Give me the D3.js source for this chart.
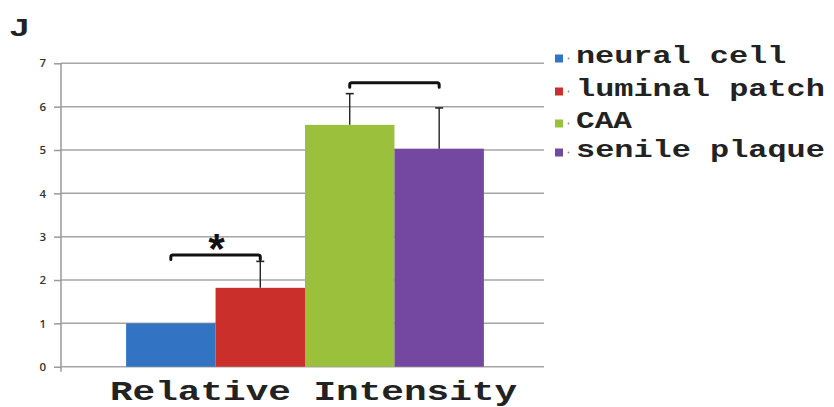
<!DOCTYPE html>
<html>
<head>
<meta charset="utf-8">
<script src="https://cdn.jsdelivr.net/npm/d3@7"></script>
<style>
  html, body { margin: 0; padding: 0; background: #fff; }
  svg { display: block; }
</style>
</head>
<body>
<svg id="chart" width="834" height="407"></svg>
<script>
// Relative intensity by tissue type, mean ± error
const category = "Relative Intensity";
const seriesNames = ["neural cell", "luminal patch", "CAA", "senile plaque"];
const seriesValues = [1.0, 1.82, 5.58, 5.03];
const seriesErrors = [0, 0.61, 0.72, 0.94];
const seriesColors = ["#3373c4", "#cb2f2b", "#9bc13c", "#7448a0"];
const yTicks = [0, 1, 2, 3, 4, 5, 6, 7];
// significance brackets between series, with their marker
const brackets = [
  { from: "neural cell", to: "luminal patch", level: 2.58, label: "*" },
  { from: "CAA", to: "senile plaque", level: 6.55, label: "" }
];

const monoFont = "'Courier New', Courier, 'Liberation Mono', monospace";
const svg = d3.select("#chart");
const plot = { left: 61, right: 544, top: 63.3, bottom: 366.7 };

const y = d3.scaleLinear().domain([0, 7]).range([plot.bottom, plot.top]);
const x0 = d3.scaleBand().domain([category]).range([plot.left, plot.right])
  .paddingInner(0).paddingOuter(0.175).align(0.52);
const x1 = d3.scaleBand().domain(seriesNames).range([0, x0.bandwidth()]).padding(0);

// panel letter
svg.append("text")
  .attr("x", 10).attr("y", 36)
  .attr("font-family", "Liberation Sans, Arial, sans-serif")
  .attr("font-weight", "bold").attr("font-size", 24)
  .attr("textLength", 19).attr("lengthAdjust", "spacingAndGlyphs")
  .attr("fill", "#222").text("J");

// gridlines
svg.append("g").selectAll("line").data(yTicks.filter(d => d > 0)).join("line")
  .attr("x1", plot.left).attr("x2", plot.right)
  .attr("y1", d => y(d)).attr("y2", d => y(d))
  .attr("stroke", "#a6a6a6").attr("stroke-width", 1.5);

// y axis
const yAxis = d3.axisLeft(y).tickValues(yTicks).tickSize(7).tickPadding(8).tickFormat(d3.format("d"));
const gy = svg.append("g").attr("transform", `translate(${plot.left},0)`).call(yAxis);
gy.select(".domain").attr("stroke", "#999").attr("stroke-width", 1.5)
  .attr("d", `M0,${plot.top}V${plot.bottom + 5}`);
gy.selectAll(".tick line").attr("stroke", "#999").attr("stroke-width", 1.5);
gy.selectAll(".tick text")
  .attr("font-family", "'Open Sans', 'Liberation Sans', Arial, sans-serif")
  .attr("font-size", 11.5).attr("font-weight", 600).attr("fill", "#333");

// x axis baseline
svg.append("line")
  .attr("x1", plot.left).attr("x2", plot.right)
  .attr("y1", y(0)).attr("y2", y(0))
  .attr("stroke", "#a6a6a6").attr("stroke-width", 1.5);

// bars
const data = seriesNames.map((name, i) => ({
  name, value: seriesValues[i], err: seriesErrors[i], color: seriesColors[i]
}));
const g = svg.append("g").attr("transform", `translate(${x0(category)},0)`);
g.selectAll("rect").data(data).join("rect")
  .attr("x", d => x1(d.name)).attr("width", x1.bandwidth())
  .attr("y", d => y(d.value)).attr("height", d => y(0) - y(d.value))
  .attr("fill", d => d.color);

// error bars
const eb = g.selectAll("g.err").data(data.filter(d => d.err > 0)).join("g").attr("class", "err");
eb.append("line")
  .attr("x1", d => x1(d.name) + x1.bandwidth() / 2).attr("x2", d => x1(d.name) + x1.bandwidth() / 2)
  .attr("y1", d => y(d.value)).attr("y2", d => y(d.value + d.err))
  .attr("stroke", "#222").attr("stroke-width", 1.4);
eb.append("line")
  .attr("x1", d => x1(d.name) + x1.bandwidth() / 2 - 4).attr("x2", d => x1(d.name) + x1.bandwidth() / 2 + 4)
  .attr("y1", d => y(d.value + d.err)).attr("y2", d => y(d.value + d.err))
  .attr("stroke", "#222").attr("stroke-width", 1.6);

// significance brackets
brackets.forEach(b => {
  const xa = x0(category) + x1(b.from) + x1.bandwidth() / 2;
  const xb = x0(category) + x1(b.to) + x1.bandwidth() / 2;
  const yt = y(b.level);
  svg.append("path")
    .attr("d", `M${xa},${yt + 4.5}V${yt + 2}Q${xa},${yt} ${xa + 2},${yt}H${xb - 2}Q${xb},${yt} ${xb},${yt + 2}V${yt + 4.5}`)
    .attr("fill", "none").attr("stroke", "#111").attr("stroke-width", 3)
    .attr("stroke-linecap", "round");
  if (b.label) {
    svg.append("text")
      .attr("x", (xa + xb) / 2 + 1).attr("y", yt + 10)
      .attr("text-anchor", "middle")
      .attr("font-family", monoFont)
      .attr("font-weight", "bold").attr("font-size", 42)
      .attr("fill", "#111").text(b.label);
  }
});

// category label
svg.append("text")
  .attr("x", 110).attr("y", 400)
  .attr("font-family", monoFont)
  .attr("font-weight", "bold").attr("font-size", 27)
  .attr("textLength", 407).attr("lengthAdjust", "spacingAndGlyphs")
  .attr("fill", "#222").text(category);

// legend
const legendBaselines = [63, 96, 128, 157];
const lg = svg.append("g").selectAll("g").data(data).join("g")
  .attr("transform", (d, i) => `translate(0,${legendBaselines[i]})`);
lg.append("rect").attr("x", 555).attr("y", -8.5).attr("width", 8).attr("height", 8)
  .attr("fill", d => d.color);
lg.append("circle").attr("cx", 568.5).attr("cy", -4.5).attr("r", 0.9).attr("fill", "#888");
lg.append("text")
  .attr("x", 576).attr("y", 0)
  .attr("font-family", monoFont)
  .attr("font-weight", "bold").attr("font-size", 24)
  .attr("textLength", d => d.name.length * 19.3 - 2).attr("lengthAdjust", "spacingAndGlyphs")
  .attr("fill", "#222").text(d => d.name);
</script>
</body>
</html>
